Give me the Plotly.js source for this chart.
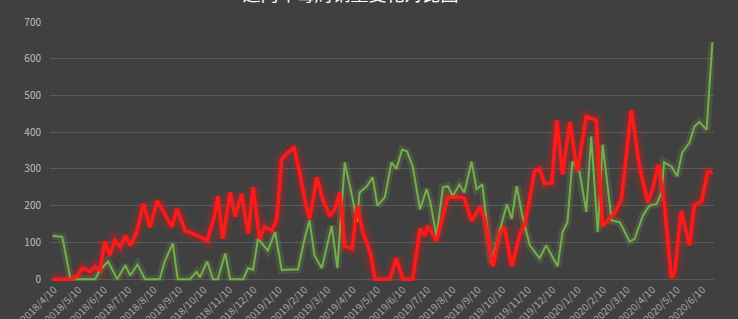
<!DOCTYPE html>
<html>
<head>
<meta charset="utf-8">
<script src="https://cdn.plot.ly/plotly-3.0.1.min.js"></script>
<style>
html,body{margin:0;padding:0;background:#404040;}
#chart{width:738px;height:319px;}
</style>
</head>
<body>
<div id="chart"></div>
<script>
// Green series (vertex dates and values)
var greenDates = ["2018-04-08","2018-04-20","2018-04-30","2018-05-18","2018-05-30","2018-06-05","2018-06-15","2018-06-26","2018-07-06","2018-07-12","2018-07-21","2018-07-30","2018-08-17","2018-08-23","2018-09-02","2018-09-08","2018-09-23","2018-10-01","2018-10-05","2018-10-14","2018-10-21","2018-10-27","2018-11-05","2018-11-11","2018-11-27","2018-12-03","2018-12-09","2018-12-15","2018-12-27","2019-01-05","2019-01-13","2019-02-02","2019-02-10","2019-02-16","2019-02-22","2019-03-03","2019-03-15","2019-03-22","2019-03-31","2019-04-09","2019-04-15","2019-04-18","2019-04-27","2019-05-04","2019-05-10","2019-05-19","2019-05-27","2019-06-02","2019-06-09","2019-06-15","2019-06-22","2019-07-01","2019-07-09","2019-07-13","2019-07-21","2019-07-29","2019-08-04","2019-08-10","2019-08-18","2019-08-24","2019-09-02","2019-09-08","2019-09-15","2019-09-26","2019-10-15","2019-10-21","2019-10-27","2019-11-03","2019-11-12","2019-11-24","2019-12-02","2019-12-16","2019-12-22","2019-12-28","2020-01-03","2020-01-12","2020-01-20","2020-01-26","2020-02-03","2020-02-09","2020-02-20","2020-03-01","2020-03-13","2020-03-19","2020-03-29","2020-04-06","2020-04-15","2020-04-21","2020-04-24","2020-05-03","2020-05-10","2020-05-16","2020-05-25","2020-05-31","2020-06-06","2020-06-15","2020-06-22"];
var greenValues = [118,115,0,0,0,25,48,0,38,10,40,0,0,48,97,0,0,20,5,48,0,0,70,0,0,30,25,110,78,128,25,27,110,160,65,30,145,30,318,226,156,236,253,277,200,223,318,300,353,348,307,190,245,215,118,250,253,226,258,236,320,245,258,45,204,164,253,172,92,57,92,35,128,155,320,290,183,388,128,366,160,155,102,110,172,200,205,236,318,307,280,344,372,415,428,407,645];

// Red series (vertex dates and values)
var redDates = ["2018-04-08","2018-05-03","2018-05-08","2018-05-15","2018-05-24","2018-05-30","2018-06-05","2018-06-11","2018-06-17","2018-06-23","2018-06-30","2018-07-06","2018-07-12","2018-07-20","2018-07-28","2018-08-05","2018-08-14","2018-08-23","2018-09-01","2018-09-07","2018-09-17","2018-10-05","2018-10-14","2018-10-23","2018-10-27","2018-11-02","2018-11-11","2018-11-17","2018-11-25","2018-12-03","2018-12-09","2018-12-17","2018-12-23","2019-01-01","2019-01-07","2019-01-13","2019-01-20","2019-01-28","2019-02-04","2019-02-10","2019-02-16","2019-02-25","2019-03-04","2019-03-13","2019-03-19","2019-03-25","2019-03-31","2019-04-09","2019-04-15","2019-04-22","2019-05-01","2019-05-07","2019-05-25","2019-06-02","2019-06-10","2019-06-22","2019-07-01","2019-07-07","2019-07-10","2019-07-21","2019-08-04","2019-08-21","2019-08-24","2019-09-02","2019-09-12","2019-09-18","2019-09-28","2019-10-06","2019-10-12","2019-10-21","2019-10-31","2019-11-06","2019-11-18","2019-11-24","2019-11-30","2019-12-09","2019-12-15","2019-12-22","2019-12-31","2020-01-09","2020-01-20","2020-02-01","2020-02-09","2020-02-20","2020-02-23","2020-03-03","2020-03-15","2020-03-25","2020-04-04","2020-04-10","2020-04-17","2020-04-24","2020-05-03","2020-05-07","2020-05-15","2020-05-25","2020-05-31","2020-06-09","2020-06-16","2020-06-22"];
var redValues = [0,0,10,30,20,35,25,102,65,105,88,118,92,128,205,142,213,175,142,191,132,116,105,172,226,110,236,170,232,124,250,110,142,132,164,326,344,358,290,218,164,277,218,172,191,236,90,83,200,128,75,0,0,57,0,0,137,118,145,105,223,223,220,159,196,164,35,124,142,35,124,150,293,300,260,262,433,285,428,293,442,433,145,172,177,218,460,307,210,245,312,210,3,20,186,92,200,213,290,293];

// Axis tick labels
var tickDates = ["2018-04-10","2018-05-10","2018-06-10","2018-07-10","2018-08-10","2018-09-10","2018-10-10","2018-11-10","2018-12-10","2019-01-10","2019-02-10","2019-03-10","2019-04-10","2019-05-10","2019-06-10","2019-07-10","2019-08-10","2019-09-10","2019-10-10","2019-11-10","2019-12-10","2020-01-10","2020-02-10","2020-03-10","2020-04-10","2020-05-10","2020-06-10"];
var tickLabels = ["2018/4/10","2018/5/10","2018/6/10","2018/7/10","2018/8/10","2018/9/10","2018/10/10","2018/11/10","2018/12/10","2019/1/10","2019/2/10","2019/3/10","2019/4/10","2019/5/10","2019/6/10","2019/7/10","2019/8/10","2019/9/10","2019/10/10","2019/11/10","2019/12/10","2020/1/10","2020/2/10","2020/3/10","2020/4/10","2020/5/10","2020/6/10"];
var yTicks = [0,100,200,300,400,500,600,700];

var traces = [
  {x: redDates, y: redValues, mode: "lines", line: {color: "rgba(255,20,20,0.12)", width: 15}, hoverinfo: "skip", showlegend: false},
  {x: redDates, y: redValues, mode: "lines", line: {color: "rgba(255,20,20,0.22)", width: 8}, hoverinfo: "skip", showlegend: false},
  {x: greenDates, y: greenValues, mode: "lines", line: {color: "rgba(140,200,90,0.15)", width: 8}, hoverinfo: "skip", showlegend: false},
  {x: greenDates, y: greenValues, mode: "lines", line: {color: "#74b04a", width: 2}, showlegend: false},
  {x: redDates, y: redValues, mode: "lines", line: {color: "#ff1a1a", width: 3.5}, showlegend: false}
];

var layout = {
  width: 738, height: 319,
  paper_bgcolor: "#404040", plot_bgcolor: "#404040",
  margin: {l: 50, r: 24, t: 22, b: 38},
  font: {family: "Noto Sans CJK SC, Liberation Sans, sans-serif", color: "#bfbfbf", size: 10},
  title: {text: "近两年每周销量变化对比图", font: {color: "#ffffff", size: 18, family: "Noto Sans CJK SC"}, x: 0.475, xanchor: "center", yref: "container", y: 0.997, yanchor: "bottom"},
  xaxis: {type: "date", range: ["2018-04-05", "2020-06-24"], tickvals: tickDates, ticktext: tickLabels, tickangle: -45, showgrid: false, zeroline: false, showline: false, ticks: "", tickfont: {size: 10, color: "#a6a6a6"}},
  yaxis: {range: [-5, 700], tickvals: yTicks, showgrid: true, gridcolor: "#5a5a5a", gridwidth: 1, zeroline: false, showline: false, ticks: "", tickfont: {size: 10, color: "#bfbfbf"}, ticklabelstandoff: 8}
};

Plotly.newPlot("chart", traces, layout, {displayModeBar: false, staticPlot: true});
</script>
</body>
</html>
